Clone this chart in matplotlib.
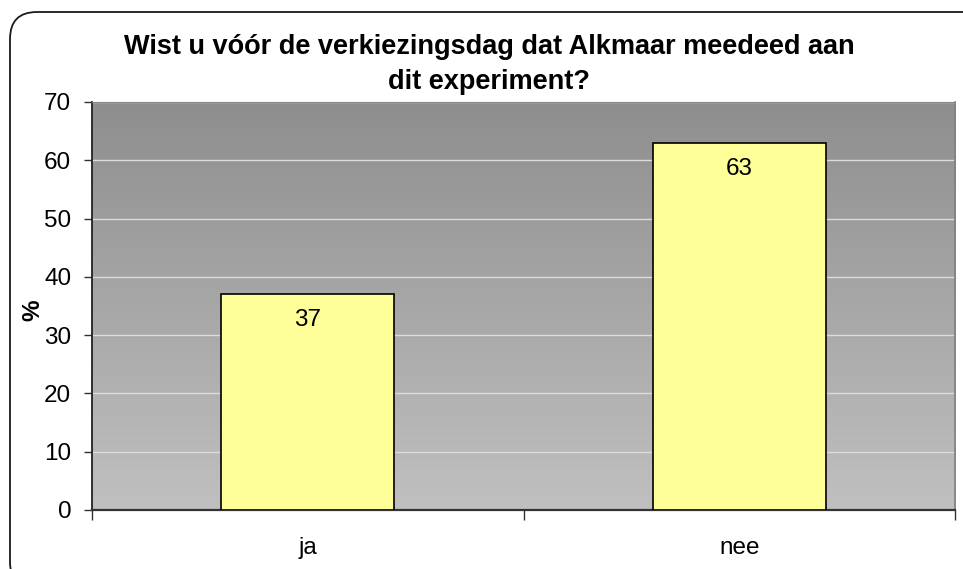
import matplotlib
matplotlib.use("Agg")
import matplotlib.pyplot as plt
import numpy as np
from matplotlib.patches import FancyBboxPatch
from matplotlib.transforms import IdentityTransform
from matplotlib.colors import LinearSegmentedColormap

plt.rcParams["font.family"] = ["Liberation Sans", "DejaVu Sans"]

# data
categories = ["ja", "nee"]
values = [37, 63]
title = "Wist u vóór de verkiezingsdag dat Alkmaar meedeed aan\ndit experiment?"

W, H = 963, 569
fig = plt.figure(figsize=(W / 100, H / 100), dpi=100)
fig.patch.set_facecolor("white")

# rounded chart frame (pixel coordinates, origin bottom-left)
frame = FancyBboxPatch((10, -20), 985, 577,
                       boxstyle="round,pad=0,rounding_size=27",
                       transform=IdentityTransform(), facecolor="none",
                       edgecolor="#1a1a1a", linewidth=1.3, zorder=0)
fig.patches.append(frame)

# plot area in pixels: x 92..955, y 102..510 (from top)
ax = fig.add_axes([92 / W, (H - 510) / H, (955 - 92) / W, (510 - 102) / H])

# gray gradient background
grad = LinearSegmentedColormap.from_list("g", ["#c0c0c0", "#8e8e8e"])
ax.imshow(np.linspace(0, 1, 256).reshape(-1, 1), cmap=grad, aspect="auto",
          extent=(-0.5, 1.5, 0, 70), origin="lower", zorder=0)

x = np.arange(len(categories))
ax.set_xlim(-0.5, 1.5)
ax.set_ylim(0, 70)

for yv in range(10, 80, 10):
    ax.axhline(yv, color="#dcdcdc", lw=1.0, zorder=1)

ax.bar(x, values, width=0.4, color="#ffff99", edgecolor="black",
       linewidth=1.2, zorder=3)
for xi, v in zip(x, values):
    ax.text(xi, v - 2.6, f"{v}", ha="center", va="top", fontsize=17.5,
            color="black", zorder=4)

ax.set_yticks(range(0, 80, 10))
ax.tick_params(axis="y", labelsize=17.5, length=6, width=1.0, color="#333333",
               direction="out", pad=9)
ax.set_xticks([-0.5, 0.5, 1.5])
ax.set_xticklabels([])
ax.tick_params(axis="x", length=7, width=1.0, color="#333333", direction="out")
for xi, c in zip(x, categories):
    ax.text(xi, -0.065, c, transform=ax.get_xaxis_transform(), ha="center",
            va="top", fontsize=17.5)

ax.spines["left"].set_color("#222222")
ax.spines["left"].set_linewidth(1.3)
ax.spines["bottom"].set_color("#333333")
ax.spines["bottom"].set_linewidth(1.6)
ax.spines["top"].set_color("#888888")
ax.spines["right"].set_color("#808080")
ax.spines["top"].set_linewidth(0.8)
ax.spines["right"].set_linewidth(1.2)

ax.set_ylabel("%", fontsize=17.5, fontweight="bold")
ax.yaxis.set_label_coords(-0.055, 0.49)

fig.text(489 / W, 1 - 34 / H, title, ha="center", va="top", fontsize=19.5,
         fontweight="bold", linespacing=1.45)

fig.savefig("out.png", dpi=100)
